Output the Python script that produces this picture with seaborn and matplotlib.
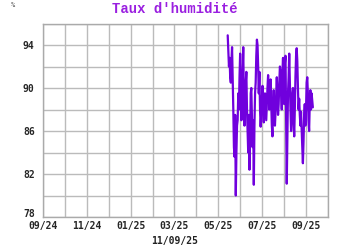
import numpy as np
import pandas as pd
import matplotlib
matplotlib.use("Agg")
import matplotlib.pyplot as plt
import matplotlib.dates as mdates
import seaborn as sns

start_date = "2025-05-15"
end_date = "2025-09-10"
humidity = [
    94.9, 93.5, 92.0, 92.8, 91.0, 90.5, 92.5, 93.8,
    91.0, 88.0, 84.5, 83.6, 87.5, 80.0, 84.0, 86.5,
    87.0, 89.5, 88.0, 91.0, 93.2, 90.0, 87.0, 88.5,
    91.5, 93.8, 89.0, 86.5, 88.0, 90.5, 91.5, 88.0,
    86.0, 84.0, 87.5, 82.4, 85.0, 89.5, 90.0, 87.0,
    84.5, 87.0, 81.0, 86.5, 89.5, 90.5, 93.0, 94.5,
    94.0, 92.0, 89.5, 91.5, 88.0, 86.4, 87.5, 89.0,
    90.2, 88.5, 86.8, 88.0, 89.5, 88.3, 87.0, 88.5,
    90.0, 91.2, 89.5, 88.0, 89.2, 90.8, 88.5, 86.5,
    85.5, 88.0, 89.8, 88.0, 86.5, 87.8, 89.5, 91.0,
    89.0, 87.5, 88.5, 90.5, 92.0, 91.5, 89.5, 88.0,
    91.5, 92.8, 90.0, 88.5, 92.3, 93.0, 87.0, 81.1,
    85.0, 89.5, 91.0, 93.2, 90.5, 88.0, 86.0, 87.0,
    89.5, 90.0, 87.0, 85.5, 88.0, 91.0, 93.0, 93.7,
    92.5, 90.0, 88.0, 89.0, 87.5, 86.5, 87.8, 86.0,
    84.5, 83.0, 85.0, 87.5, 88.5, 86.5, 88.0, 90.5,
    91.0, 89.5, 87.0, 86.0, 88.5, 89.8, 88.0, 89.5, 88.8, 88.2,
]
y_ticks = [78, 82, 86, 90, 94]
x_range = ["2024-09-01", "2025-10-01"]
title = "Taux d'humidit\u00e9"
date_label = "11/09/25"
unit = "%"

df = pd.DataFrame({
    "date": pd.date_range(start_date, end_date, periods=len(humidity)),
    "h": humidity,
})

sns.set_theme(style="white")
plt.rcParams["font.family"] = ["DejaVu Sans Mono", "DejaVu Sans"]

fig = plt.figure(figsize=(3.5, 2.5), dpi=100)
ax = fig.add_axes([43/350, 1-217/250, 285/350, (217-23.5)/250])
sns.lineplot(data=df, x="date", y="h", ax=ax, color="#7000dd", lw=1.6)

ax.set_xlim(pd.Timestamp(x_range[0]), pd.Timestamp(x_range[1]))
ax.set_ylim(78, 96)
ax.set_yticks(y_ticks)
ax.set_yticks(np.arange(78, 97, 2), minor=True)
ax.xaxis.set_major_locator(mdates.MonthLocator(bymonth=[1, 3, 5, 7, 9, 11]))
ax.xaxis.set_minor_locator(mdates.MonthLocator())
ax.xaxis.set_major_formatter(mdates.DateFormatter("%m/%y"))
ax.grid(True, which="both", color="#bbbbbb", lw=1)
ax.set_axisbelow(True)
for s in ax.spines.values():
    s.set_color("#aaaaaa")
    s.set_linewidth(1)
ax.tick_params(axis="both", which="both", length=0, labelsize=7, pad=6)
ax.tick_params(axis="x", pad=3)
for lab in ax.get_xticklabels() + ax.get_yticklabels():
    lab.set_fontweight("bold")
ax.get_yticklabels()[0].set_va("baseline")
ax.set_xlabel("")
ax.set_ylabel("")

fig.text(0.5, 1-9/250, title, ha="center", va="center", fontsize=10,
         fontweight="bold", color="#9a1fe0", family=["Liberation Mono", "DejaVu Sans Mono"])
fig.text(13/350, 1-5/250, unit, ha="center", va="center", fontsize=5, color="#333333")
fig.text(0.5, 1-241/250, date_label, ha="center", va="center", fontsize=7,
         fontweight="bold", color="#222222")

fig.savefig("out.png", dpi=100, facecolor="white")
